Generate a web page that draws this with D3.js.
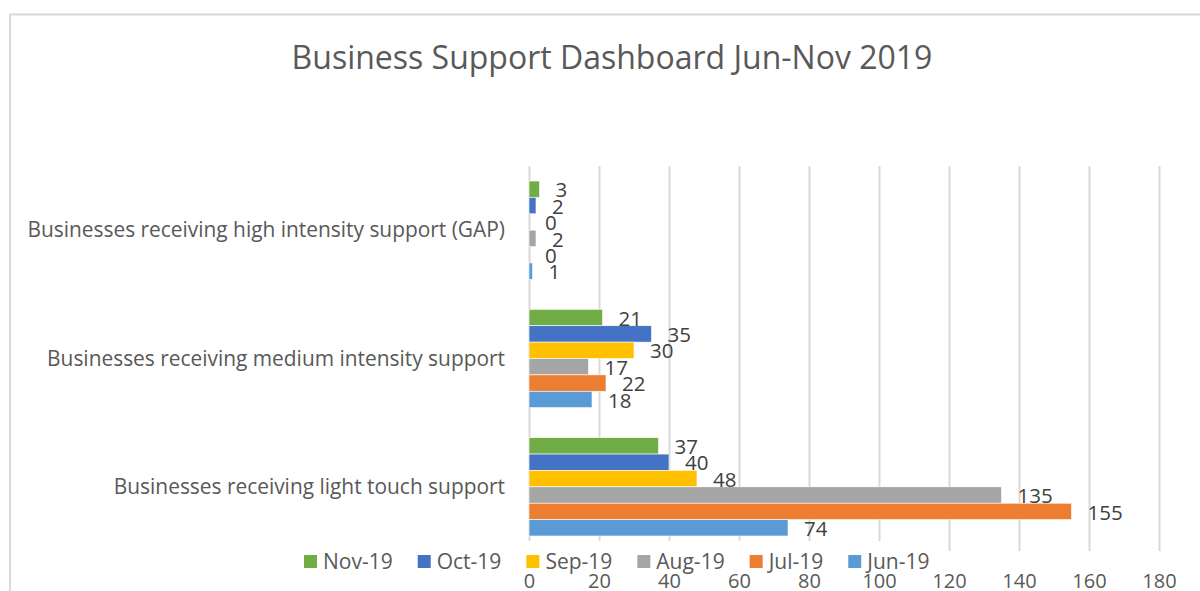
<!DOCTYPE html>
<html>
<head>
<meta charset="utf-8">
<script src="https://cdn.jsdelivr.net/npm/d3@7"></script>
<style>
  body { margin: 0; background: #fff; }
  text { font-family: "Open Sans", sans-serif; }
</style>
</head>
<body>
<svg id="chart"></svg>
<script>
// categories top to bottom
var categories = [
  "Businesses receiving high intensity support (GAP)",
  "Businesses receiving medium intensity support",
  "Businesses receiving light touch support"
];
// months, in bar order top to bottom within a group
var months = ["Nov-19", "Oct-19", "Sep-19", "Aug-19", "Jul-19", "Jun-19"];
var nov = [3, 21, 37];
var oct = [2, 35, 40];
var sep = [0, 30, 48];
var aug = [2, 17, 135];
var jul = [0, 22, 155];
var jun = [1, 18, 74];
var xTicks = [0, 20, 40, 60, 80, 100, 120, 140, 160, 180];
// legend order left to right
var legendOrder = ["Nov-19", "Oct-19", "Sep-19", "Aug-19", "Jul-19", "Jun-19"];

var seriesValues = { "Nov-19": nov, "Oct-19": oct, "Sep-19": sep, "Aug-19": aug, "Jul-19": jul, "Jun-19": jun };
var colors = {
  "Jun-19": "#5B9BD5", "Jul-19": "#ED7D31", "Aug-19": "#A5A5A5",
  "Sep-19": "#FFC000", "Oct-19": "#4472C4", "Nov-19": "#70AD47"
};

var W = 1200, H = 591;
var svg = d3.select("#chart").attr("width", W).attr("height", H);

// chart frame
svg.append("rect")
  .attr("x", 10).attr("y", 14.5)
  .attr("width", W + 20).attr("height", H + 20)
  .attr("fill", "#fff")
  .attr("stroke", "#d9d9d9").attr("stroke-width", 2);

svg.append("text")
  .attr("x", 612).attr("y", 60)
  .attr("text-anchor", "middle")
  .attr("dominant-baseline", "middle")
  .attr("fill", "#595959")
  .style("font-size", "32px")
  .text("Business Support Dashboard Jun-Nov 2019");

var plotTop = 166, plotBottom = 551;
var x = d3.scaleLinear().domain([0, 180]).range([529, 1159]);
var y = d3.scaleBand().domain(categories).range([plotTop, plotBottom])
  .paddingInner(0.234).paddingOuter(0.117);
var yInner = d3.scaleBand().domain(months).range([0, y.bandwidth()]);

// gridlines + tick labels
var xAxis = svg.append("g")
  .attr("transform", "translate(0," + plotBottom + ")")
  .call(d3.axisBottom(x).tickValues(xTicks).tickSize(-(plotBottom - plotTop)).tickPadding(23));
xAxis.select(".domain").remove();
xAxis.selectAll("line").attr("stroke", "#d9d9d9").attr("stroke-width", 2);
xAxis.selectAll("text").attr("fill", "#595959").style("font-size", "20px")
  .style("font-family", "'Open Sans', sans-serif");

// category labels
svg.append("g").selectAll("text")
  .data(categories)
  .enter().append("text")
  .attr("x", 505)
  .attr("y", function (d) { return y(d) + y.bandwidth() / 2; })
  .attr("text-anchor", "end")
  .attr("dy", "0.35em")
  .attr("fill", "#595959")
  .style("font-size", "20.9px")
  .text(function (d) { return d; });

// bars
var rows = [];
months.forEach(function (m) {
  categories.forEach(function (c, i) {
    rows.push({ month: m, cat: c, value: seriesValues[m][i] });
  });
});

svg.append("g").selectAll("rect")
  .data(rows)
  .enter().append("rect")
  .attr("x", x(0))
  .attr("y", function (d) { return y(d.cat) + yInner(d.month); })
  .attr("width", function (d) { return x(d.value) - x(0); })
  .attr("height", yInner.bandwidth())
  .attr("fill", function (d) { return colors[d.month]; })
  .attr("stroke", "#fff").attr("stroke-width", 0.6);

svg.append("g").selectAll("text")
  .data(rows)
  .enter().append("text")
  .attr("x", function (d) { return x(d.value) + 16; })
  .attr("y", function (d) { return y(d.cat) + yInner(d.month) + yInner.bandwidth() / 2 + 1; })
  .attr("dy", "0.35em")
  .attr("fill", "#404040")
  .style("font-size", "20.5px")
  .text(function (d) { return d.value; });

// legend
var legend = svg.append("g");
legend.append("rect")
  .attr("x", 296).attr("y", 541).attr("width", 645).attr("height", 31)
  .attr("fill", "#fff");
var lx = 304;
legendOrder.forEach(function (m) {
  var item = legend.append("g").attr("transform", "translate(" + lx + ",555)");
  item.append("rect").attr("width", 13).attr("height", 13).attr("fill", colors[m]);
  var t = item.append("text")
    .attr("x", 19).attr("y", 6.5).attr("dy", "0.35em")
    .attr("fill", "#595959")
    .style("font-size", "21px")
    .text(m);
  lx += 19 + t.node().getComputedTextLength() + 25;
});
</script>
</body>
</html>
